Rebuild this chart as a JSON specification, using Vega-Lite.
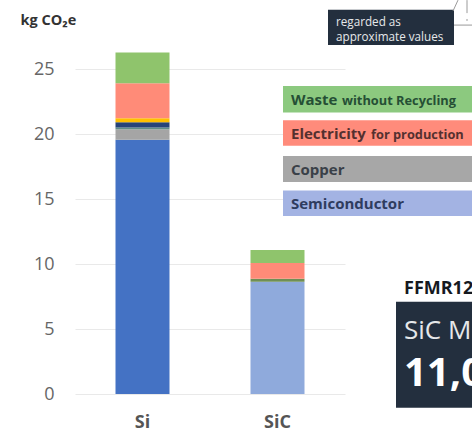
{"$schema":"https://vega.github.io/schema/vega-lite/v6.json","width":270,"height":345,"autosize":{"type":"none"},"padding":{"left":75,"top":49,"right":127,"bottom":40},"background":"white","config":{"view":{"stroke":null},"font":"Open Sans"},"datasets":{"bars":[{"tech":"Si","part":"Semiconductor Si","value":19.56,"order":1},{"tech":"Si","part":"Copper","value":0.8,"order":2},{"tech":"Si","part":"Other thin","value":0.15,"order":3},{"tech":"Si","part":"Navy","value":0.4,"order":4},{"tech":"Si","part":"Yellow","value":0.3,"order":5},{"tech":"Si","part":"Electricity","value":2.7,"order":6},{"tech":"Si","part":"Waste","value":2.37,"order":7},{"tech":"SiC","part":"Semiconductor SiC","value":8.64,"order":1},{"tech":"SiC","part":"Other SiC","value":0.23,"order":2},{"tech":"SiC","part":"Electricity","value":1.21,"order":3},{"tech":"SiC","part":"Waste","value":0.99,"order":4}],"boxes":[{"name":"Waste","x":208,"x2":400,"y":23.7,"y2":21.65},{"name":"Electricity","x":208,"x2":400,"y":21.05,"y2":19.1},{"name":"Copper","x":208,"x2":400,"y":18.3,"y2":16.3},{"name":"Semiconductor","x":208,"x2":400,"y":15.65,"y2":13.7},{"name":"Note","x":253,"x2":379,"y":29.55,"y2":26.85},{"name":"Result","x":321,"x2":400,"y":7.1,"y2":-1.05}]},"layer":[{"data":{"name":"bars"},"mark":{"type":"bar"},"encoding":{"x":{"field":"tech","type":"nominal","sort":["Si","SiC"],"scale":{"paddingInner":0.6,"paddingOuter":0.3},"axis":{"title":null,"domain":false,"ticks":false,"grid":false,"labelAngle":0,"labelFontSize":18,"labelFontWeight":"bold","labelColor":"#555555","labelPadding":28,"labelBaseline":"middle"}},"y":{"field":"value","type":"quantitative","stack":"zero","scale":{"domain":[0,26.54],"nice":false,"clamp":false},"axis":{"title":"kg CO₂e","titleAngle":0,"titleX":-55,"titleY":-29,"titleAlign":"left","titleBaseline":"middle","titleFontSize":14.5,"titleFontWeight":"bold","titleColor":"#333333","values":[0,5,10,15,20,25],"grid":true,"gridColor":"#e9e9e9","domain":false,"ticks":false,"labelFontSize":18,"labelColor":"#666666","labelPadding":21}},"order":{"field":"order","type":"quantitative"},"color":{"field":"part","type":"nominal","legend":null,"scale":{"domain":["Semiconductor Si","Copper","Other thin","Navy","Yellow","Electricity","Waste","Semiconductor SiC","Other SiC"],"range":["#4472c4","#a5a5a5","#5f8f86","#264478","#ffc000","#ff8b78","#8fc46c","#8faadc","#6f8f55"]}}}},{"data":{"name":"boxes"},"mark":{"type":"rect","clip":false},"encoding":{"x":{"field":"x","type":"quantitative","scale":{"domain":[0,270],"nice":false},"axis":null},"x2":{"field":"x2"},"y":{"field":"y","type":"quantitative","axis":null},"y2":{"field":"y2"},"color":{"field":"name","type":"nominal","legend":null,"scale":{"domain":["Waste","Electricity","Copper","Semiconductor","Note","Result"],"range":["#8cc97f","#ff8b7b","#a7a7a7","#a3b3e3","#232f3e","#232f3e"]}}}},{"data":{"values":[{"x":378,"x2":383,"y":29.46,"y2":30.3},{"x":379,"x2":397,"y":28.38,"y2":28.38},{"x":392,"x2":392,"y":30.3,"y2":29.3},{"x":392,"x2":392,"y":28.85,"y2":28.7}]},"mark":{"type":"rule","color":"#9a9a9a","strokeWidth":1},"encoding":{"x":{"field":"x","type":"quantitative","scale":{"domain":[0,270],"nice":false},"axis":null},"x2":{"field":"x2"},"y":{"field":"y","type":"quantitative","axis":null},"y2":{"field":"y2"}}},{"data":{"values":[{"label":"Waste","x":216,"y":22.6,"c":"#254f35"},{"label":"Electricity","x":216,"y":20.0,"c":"#54302f"},{"label":"Copper","x":216,"y":17.2,"c":"#3a4048"},{"label":"Semiconductor","x":216,"y":14.62,"c":"#2f3c5f"}]},"mark":{"type":"text","align":"left","baseline":"middle","fontSize":15,"fontWeight":"bold"},"encoding":{"x":{"field":"x","type":"quantitative","scale":{"domain":[0,270],"nice":false},"axis":null},"y":{"field":"y","type":"quantitative","axis":null},"text":{"field":"label"},"color":{"field":"c","type":"nominal","scale":null}}},{"data":{"values":[{"label":"without Recycling","x":267,"y":22.55,"c":"#254f35"},{"label":"for production","x":296,"y":19.96,"c":"#54302f"}]},"mark":{"type":"text","align":"left","baseline":"middle","fontSize":12.8,"fontWeight":"bold"},"encoding":{"x":{"field":"x","type":"quantitative","scale":{"domain":[0,270],"nice":false},"axis":null},"y":{"field":"y","type":"quantitative","axis":null},"text":{"field":"label"},"color":{"field":"c","type":"nominal","scale":null}}},{"data":{"values":[{"label":"regarded as","x":261,"y":28.6},{"label":"approximate values","x":261,"y":27.45}]},"mark":{"type":"text","align":"left","baseline":"middle","fontSize":11.7,"color":"#e6e8ea"},"encoding":{"x":{"field":"x","type":"quantitative","scale":{"domain":[0,270],"nice":false},"axis":null},"y":{"field":"y","type":"quantitative","axis":null},"text":{"field":"label"}}},{"data":{"values":[{"label":"FFMR12","x":329,"y":8.05}]},"mark":{"type":"text","align":"left","baseline":"middle","fontSize":18,"fontWeight":"bold","color":"#15191f"},"encoding":{"x":{"field":"x","type":"quantitative","scale":{"domain":[0,270],"nice":false},"axis":null},"y":{"field":"y","type":"quantitative","axis":null},"text":{"field":"label"}}},{"data":{"values":[{"label":"SiC M","x":329,"y":4.85}]},"mark":{"type":"text","align":"left","baseline":"middle","fontSize":26,"color":"#e6e8ea"},"encoding":{"x":{"field":"x","type":"quantitative","scale":{"domain":[0,270],"nice":false},"axis":null},"y":{"field":"y","type":"quantitative","axis":null},"text":{"field":"label"}}},{"data":{"values":[{"label":"11,0","x":329,"y":1.55}]},"mark":{"type":"text","align":"left","baseline":"middle","fontSize":40,"fontWeight":"bold","color":"#ffffff"},"encoding":{"x":{"field":"x","type":"quantitative","scale":{"domain":[0,270],"nice":false},"axis":null},"y":{"field":"y","type":"quantitative","axis":null},"text":{"field":"label"}}}],"resolve":{"scale":{"x":"independent","color":"independent"},"axis":{"y":"independent"}}}
